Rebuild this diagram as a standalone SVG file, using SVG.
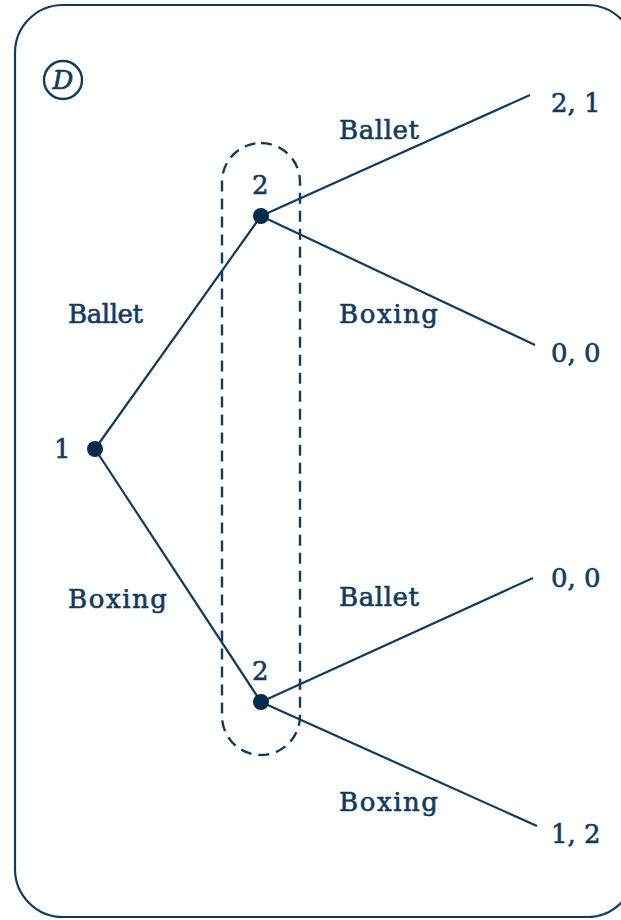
<svg xmlns="http://www.w3.org/2000/svg" width="621" height="920" viewBox="0 0 621 920">
<style>
.t{font-family:"DejaVu Serif","Liberation Serif",serif;font-size:26px;fill:#0f3b5f;stroke:#0f3b5f;stroke-width:0.6}
.e{stroke:#0f3b5f;stroke-width:2.2;fill:none}
.n{fill:#062a4a}
</style>
<rect width="621" height="920" fill="#ffffff"/>
<rect x="15" y="5" width="620" height="912" rx="48" fill="none" stroke="#0f3b5f" stroke-width="2.2"/>
<g id="label-D">
<circle cx="63" cy="80" r="19" fill="none" stroke="#0f3b5f" stroke-width="2.4"/>
<text x="63" y="89" text-anchor="middle" class="t" font-style="italic" font-size="25">D</text>
</g>
<g id="info-set">
<rect x="222" y="143" width="78" height="612" rx="39" fill="none" stroke="#0f3b5f" stroke-width="2.4" stroke-dasharray="11,7"/>
</g>
<g id="connectors">
<line class="e" x1="95" y1="449" x2="261" y2="216"/>
<line class="e" x1="95" y1="449" x2="261" y2="702"/>
<line class="e" x1="261" y1="216" x2="530" y2="95"/>
<line class="e" x1="261" y1="216" x2="535" y2="345"/>
<line class="e" x1="261" y1="702" x2="533" y2="578"/>
<line class="e" x1="261" y1="702" x2="537" y2="826"/>
<text class="t" x="68" y="323" textLength="75">Ballet</text>
<text class="t" x="68" y="608" textLength="99">Boxing</text>
<text class="t" x="339" y="139" textLength="80">Ballet</text>
<text class="t" x="339" y="323" textLength="99">Boxing</text>
<text class="t" x="339" y="606" textLength="80">Ballet</text>
<text class="t" x="339" y="811" textLength="99">Boxing</text>
</g>
<g id="node-1">
<circle class="n" cx="95" cy="449" r="8"/>
<text class="t" x="54" y="458">1</text>
</g>
<g id="node-2-top">
<circle class="n" cx="261" cy="216" r="8"/>
<text class="t" x="252" y="194">2</text>
</g>
<g id="node-2-bottom">
<circle class="n" cx="261" cy="702" r="8"/>
<text class="t" x="252" y="680">2</text>
</g>
<g id="leaf-1"><text class="t" x="551" y="112">2, 1</text></g>
<g id="leaf-2"><text class="t" x="551" y="362">0, 0</text></g>
<g id="leaf-3"><text class="t" x="551" y="587">0, 0</text></g>
<g id="leaf-4"><text class="t" x="551" y="843">1, 2</text></g>
</svg>
